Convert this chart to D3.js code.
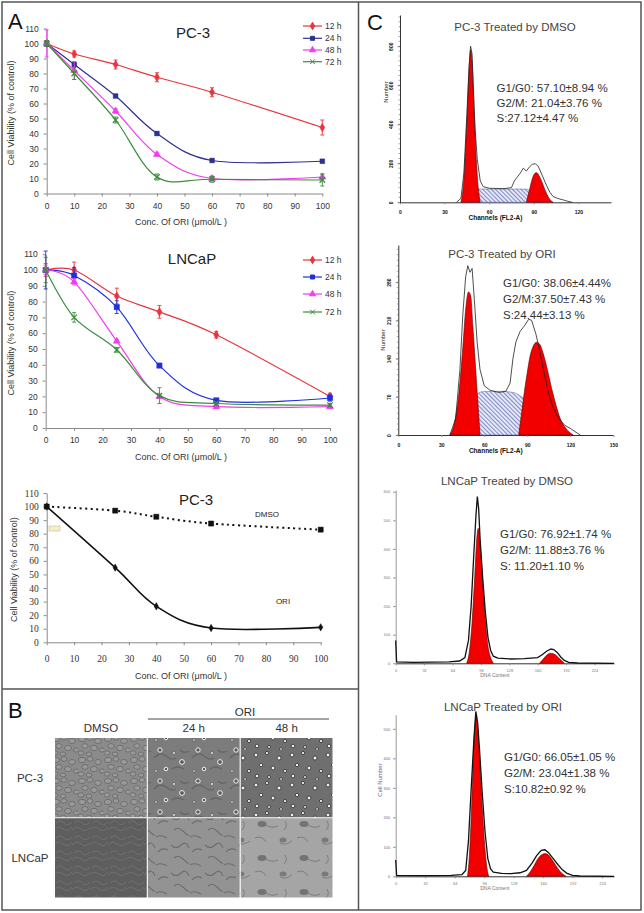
<!DOCTYPE html>
<html>
<head>
<meta charset="utf-8">
<script src="https://cdn.jsdelivr.net/npm/d3@7"></script>
<style>
body { margin: 0; background: #fff; }
text { font-family: Arial, "Liberation Sans", sans-serif; }
</style>
</head>
<body>
<svg id="fig" width="644" height="913"></svg>
<script>
// ---- panel A data (cell viability, % of control) ----
var conc = [0, 10, 25, 40, 60, 100];
var hours = ["12 h", "24 h", "48 h", "72 h"];

var pc3_12h = [100, 93, 86, 77.5, 67.5, 44];
var pc3_24h = [100, 86, 65, 40, 22, 21.5];
var pc3_48h = [100, 82, 55, 26, 10, 11];
var pc3_72h = [100, 80, 49, 11, 9.5, 9];
var pc3_12hErr = [2, 2, 3, 3, 3, 5];
var pc3_24hErr = [2, 1, 1, 1, 1, 1];
var pc3_48hErr = [9, 6, 1.5, 1, 1.5, 2];
var pc3_72hErr = [2, 4, 2, 2, 2, 4];

var ln_12h = [100, 100, 83.5, 73.5, 59, 20];
var ln_24h = [100, 96.5, 76.5, 39.5, 17.5, 19];
var ln_48h = [100, 92.5, 55, 20, 13.5, 13.5];
var ln_72h = [100, 70, 49.5, 20.5, 15.5, 14.5];
var ln_12hErr = [4, 5, 5, 4, 2, 2];
var ln_24hErr = [12, 5, 4, 1, 1, 2];
var ln_48hErr = [3, 2, 1, 1, 1, 1];
var ln_72hErr = [8, 3, 1.5, 5, 1, 1];

var conc3 = [0, 25, 40, 60, 100];
var dmso3 = [100, 97, 92.5, 87.5, 83];
var ori3 = [100, 55, 26.5, 10.5, 11];

// ---- panel B labels ----
var bCols = ["DMSO", "24 h", "48 h"];
var bRows = ["PC-3", "LNCaP"];

// ---- panel C data (histograms: [channel, count]) ----
var pc3DmsoRaw = [[38,0],[41,20],[43,150],[45,450],[46.5,700],[47.5,800],[48.5,760],[49.5,560],[50.5,380],[52,220],[54,110],[56,80],[60,72],[70,70],[75,75],[77,110],[79,130],[81,150],[83,175],[85,160],[87,180],[89,195],[91,198],[93,185],[95,150],[97,115],[99,80],[101,50],[103,30],[106,20],[110,12],[113,5],[116,0]];
var pc3DmsoG1 = [[41,0],[43,120],[45,420],[46.5,680],[47.5,780],[48.5,720],[50,450],[51.5,200],[53,50],[54,0]];
var pc3DmsoG2 = [[85,0],[87,60],[89,120],[91,150],[92,152],[94,130],[96,95],[98,55],[100,25],[102,5],[103,0]];
var pc3DmsoS = [[45,0],[48,40],[51,67],[55,68],[70,68],[80,68],[86,67],[88,40],[91,0]];

var pc3OriRaw = [[36,0],[40,30],[43,120],[45,220],[47,290],[48.5,310],[50,298],[51.5,305],[53,250],[55,170],[57,120],[60,90],[64,82],[70,78],[75,80],[78,95],[80,140],[82,170],[85,190],[88,200],[91,212],[93,210],[96,185],[99,150],[102,110],[105,75],[108,50],[112,30],[116,18],[120,12],[124,5],[127,0]];
var pc3OriG1 = [[36,0],[39,20],[42,70],[45,160],[47,230],[49,262],[50.5,255],[52,200],[54,120],[55.5,60],[57,0]];
var pc3OriG2 = [[84,0],[86,40],[88,80],[90,115],[92,145],[94,162],[96.5,170],[99,165],[101,150],[104,120],[107,85],[110,55],[113,30],[117,12],[122,0]];
var pc3OriS = [[42,0],[46,25],[50,55],[54,72],[58,79],[65,80],[72,80],[80,78],[86,70],[92,55],[98,35],[103,18],[107,5],[109,0]];

var lnDmsoRaw = [[0,80],[1,5],[20,3],[40,4],[60,5],[72,8],[78,20],[82,80],[85,200],[88,380],[90.5,520],[92,583],[93.5,540],[95,440],[98,300],[101,180],[104,90],[107,45],[110,25],[115,18],[130,15],[145,16],[160,20],[165,30],[170,42],[175,50],[178,48],[182,38],[186,22],[190,10],[195,3],[205,1],[246,0]];
var lnDmsoG1 = [[80,0],[83,40],[86,140],[89,300],[91.5,440],[93,472],[95,420],[98,280],[101,150],[104,60],[107,20],[110,0]];
var lnDmsoG2 = [[162,0],[166,14],[170,28],[174,35],[178,33],[182,24],[186,12],[190,0]];

var lnOriRaw = [[0,55],[1,3],[30,2],[60,3],[72,6],[76,20],[79,120],[82,300],[85,470],[87,559],[89,520],[91,430],[94,280],[97,150],[100,60],[103,25],[106,14],[115,10],[125,9],[135,12],[142,20],[148,45],[153,70],[158,88],[162,90],[166,80],[171,60],[176,40],[181,22],[186,10],[192,3],[200,1],[237,0]];
var lnOriG1 = [[78,0],[80,70],[82,200],[84,380],[86,510],[87.5,545],[89,500],[91,400],[94,230],[97,90],[99,30],[101,0]];
var lnOriG2 = [[142,0],[146,15],[150,35],[154,58],[158,72],[162,77],[166,72],[170,55],[174,36],[178,18],[182,6],[185,0]];

var pc3DmsoStats = ["G1/G0: 57.10\u00b18.94 %", "G2/M: 21.04\u00b13.76 %", "S:27.12\u00b14.47 %"];
var pc3OriStats = ["G1/G0: 38.06\u00b14.44%", "G2/M:37.50\u00b17.43 %", "S:24.44\u00b13.13 %"];
var lnDmsoStats = ["G1/G0: 76.92\u00b11.74 %", "G2/M: 11.88\u00b13.76 %", "S: 11.20\u00b11.10 %"];
var lnOriStats = ["G1/G0: 66.05\u00b11.05 %", "G2/M: 23.04\u00b11.38 %", "S:10.82\u00b10.92 %"];

var svg = d3.select("#fig");
var defs = svg.append("defs");
var SANS = 'Arial, "Liberation Sans", sans-serif';
var SERIF = '"Liberation Serif", "Times New Roman", serif';
var markX = d3.symbolX || d3.symbolCross;

// frame
svg.append("rect").attr("x", 2).attr("y", 2).attr("width", 639).attr("height", 908)
    .attr("fill", "none").attr("stroke", "#555").attr("stroke-width", 1.5);
svg.append("line").attr("x1", 358.5).attr("x2", 358.5).attr("y1", 2).attr("y2", 910)
    .attr("stroke", "#555").attr("stroke-width", 1.5);
svg.append("line").attr("x1", 2).attr("x2", 358.5).attr("y1", 689).attr("y2", 689)
    .attr("stroke", "#555").attr("stroke-width", 1.5);

function letter(t, x, y) {
    svg.append("text").attr("x", x).attr("y", y).text(t)
        .style("font-size", "22px").attr("fill", "#111");
}
letter("A", 8, 29);
letter("B", 8, 718);
letter("C", 367, 30);

function styleAxis(a, fontSize, family, color) {
    a.select(".domain").attr("stroke", "#8a8a8a");
    a.selectAll(".tick line").attr("stroke", "#8a8a8a");
    a.selectAll("text").attr("fill", color || "#333")
        .style("font-size", fontSize + "px").style("font-family", family);
}

function drawViab(opt) {
    var g = svg.append("g");
    var x = d3.scaleLinear().domain([0, 100]).range([opt.left, opt.right]);
    var y = d3.scaleLinear().domain([0, 110]).range([opt.bottom, opt.top]);
    var fam = opt.serif ? SERIF : SANS;

    var xa = g.append("g").attr("transform", "translate(0," + opt.bottom + ")")
        .call(d3.axisBottom(x).tickValues(d3.range(0, 101, 10)).tickSize(3).tickSizeOuter(0).tickPadding(opt.xPad));
    var ya = g.append("g").attr("transform", "translate(" + opt.left + ",0)")
        .call(d3.axisLeft(y).tickValues(d3.range(0, 111, 10)).tickSize(3).tickSizeOuter(0).tickPadding(5));
    styleAxis(xa, opt.tick, fam);
    styleAxis(ya, opt.tick, fam);

    g.append("text").attr("transform", "translate(" + opt.yLabelX + "," + ((opt.top + opt.bottom) / 2 + 2) + ") rotate(-90)")
        .attr("text-anchor", "middle").style("font-size", "9px").attr("fill", "#333")
        .text("Cell Viability (% of control)");
    g.append("text").attr("x", 181).attr("y", opt.bottom + opt.xTitleDy).attr("text-anchor", "middle")
        .style("font-size", "9px").attr("fill", "#333").text("Conc. Of ORI (\u03bcmol/L )");
    g.append("text").attr("x", opt.titleX).attr("y", opt.titleY).attr("text-anchor", "middle")
        .style("font-size", "15px").attr("fill", "#222").text(opt.title);

    var smooth = d3.curveCardinal.tension(0);
    opt.series.forEach(function (s) {
        var pts = s.xs.map(function (c, i) {
            return { c: c, v: s.values[i], e: s.err ? s.err[i] : 0 };
        });
        var line = d3.line().x(function (d) { return x(d.c); })
            .y(function (d) { return y(d.v); }).curve(smooth);
        g.append("path").datum(pts).attr("d", line).attr("fill", "none")
            .attr("stroke", s.color).attr("stroke-width", s.width || 1.2)
            .attr("stroke-dasharray", s.dash || null);
        if (s.err) {
            var eb = g.append("g").attr("stroke", s.color).attr("stroke-width", 0.9);
            pts.forEach(function (d) {
                if (!d.e) return;
                eb.append("line").attr("x1", x(d.c)).attr("x2", x(d.c))
                    .attr("y1", y(d.v - d.e)).attr("y2", y(d.v + d.e));
                [d.v - d.e, d.v + d.e].forEach(function (v) {
                    eb.append("line").attr("x1", x(d.c) - 2).attr("x2", x(d.c) + 2)
                        .attr("y1", y(v)).attr("y2", y(v));
                });
            });
        }
        var sym = d3.symbol().type(s.symbol).size(s.msize || 22);
        g.selectAll(null).data(pts).join("path")
            .attr("transform", function (d) { return "translate(" + x(d.c) + "," + y(d.v) + ")"; })
            .attr("d", sym)
            .attr("fill", s.symbol === markX ? "none" : s.color)
            .attr("stroke", s.color).attr("stroke-width", s.symbol === markX ? 1.2 : 0.5);
    });

    if (opt.legend) {
        opt.series.forEach(function (s, i) {
            var ly = opt.legend.y[i];
            g.append("line").attr("x1", 303).attr("x2", 322).attr("y1", ly).attr("y2", ly)
                .attr("stroke", s.color).attr("stroke-width", 1.2);
            g.append("path").attr("transform", "translate(312.5," + ly + ")")
                .attr("d", d3.symbol().type(s.symbol).size(16))
                .attr("fill", s.symbol === markX ? "none" : s.color).attr("stroke", s.color);
            g.append("text").attr("x", 325).attr("y", ly + 3).style("font-size", "8.5px")
                .attr("fill", "#333").text(hours[i]);
        });
    }
    return { g: g, x: x, y: y };
}

drawViab({
    left: 46.7, right: 322.3, bottom: 193.5, top: 28.5, xPad: 6, tick: 8.5,
    yLabelX: 14, xTitleDy: 31, title: "PC-3", titleX: 193, titleY: 38,
    legend: { y: [26, 38.3, 50, 61.7] },
    series: [
        { xs: conc, values: pc3_12h, err: pc3_12hErr, color: "#e8343c", symbol: d3.symbolDiamond },
        { xs: conc, values: pc3_24h, err: pc3_24hErr, color: "#2e3190", symbol: d3.symbolSquare },
        { xs: conc, values: pc3_48h, err: pc3_48hErr, color: "#f23cf0", symbol: d3.symbolTriangle },
        { xs: conc, values: pc3_72h, err: pc3_72hErr, color: "#3c8c3c", symbol: markX }
    ]
});

drawViab({
    left: 45.7, right: 330, bottom: 428, top: 254.2, xPad: 6, tick: 8.5,
    yLabelX: 14, xTitleDy: 32, title: "LNCaP", titleX: 192, titleY: 264,
    legend: { y: [260, 277, 294, 312] },
    series: [
        { xs: conc, values: ln_12h, err: ln_12hErr, color: "#e8343c", symbol: d3.symbolDiamond },
        { xs: conc, values: ln_24h, err: ln_24hErr, color: "#1f2fe0", symbol: d3.symbolSquare, msize: 28 },
        { xs: conc, values: ln_48h, err: ln_48hErr, color: "#f23cf0", symbol: d3.symbolTriangle },
        { xs: conc, values: ln_72h, err: ln_72hErr, color: "#3c8c3c", symbol: markX }
    ]
});

var c3 = drawViab({
    left: 46.7, right: 320.7, bottom: 642.3, top: 493, xPad: 10, tick: 9.5, serif: true,
    yLabelX: 16.5, xTitleDy: 37, title: "PC-3", titleX: 196, titleY: 505,
    series: [
        { xs: conc3, values: dmso3, color: "#111", width: 2, dash: "2,3.5", symbol: d3.symbolSquare, msize: 26 },
        { xs: conc3, values: ori3, color: "#111", width: 1.6, symbol: d3.symbolDiamond, msize: 16 }
    ]
});
c3.g.append("text").attr("x", 267).attr("y", 517).attr("text-anchor", "middle")
    .style("font-size", "8px").attr("fill", "#222").text("DMSO");
c3.g.append("text").attr("x", 283).attr("y", 604).attr("text-anchor", "middle")
    .style("font-size", "8px").attr("fill", "#222").text("ORI");
c3.g.append("rect").attr("x", 49).attr("y", 526).attr("width", 11).attr("height", 5)
    .attr("fill", "#f4efc6").attr("stroke", "#b9b28a").attr("stroke-width", 0.5);

// ---- panel B: micrograph tiles (texture only) ----
function pattern(id, w, h, bg, draw) {
    var p = defs.append("pattern").attr("id", id).attr("width", w).attr("height", h)
        .attr("patternUnits", "userSpaceOnUse");
    p.append("rect").attr("width", w).attr("height", h).attr("fill", bg);
    draw(p);
}
function dots(p, list, fill, stroke, sw) {
    list.forEach(function (c) {
        p.append("circle").attr("cx", c[0]).attr("cy", c[1]).attr("r", c[2])
            .attr("fill", fill).attr("stroke", stroke).attr("stroke-width", sw);
    });
}
function strokes(p, d, color, w) {
    p.append("path").attr("d", d).attr("fill", "none").attr("stroke", color).attr("stroke-width", w);
}
pattern("pc3d", 26, 21, "#8b8b8b", function (p) {
    [[4, 4, 3.6, 2.6], [12, 3, 3, 2.3], [20, 6, 3.4, 2.5], [7, 11, 3.2, 2.4], [16, 13, 3.5, 2.6], [24, 15, 2.6, 2.1], [3, 18, 3, 2.2], [11, 19, 2.8, 2]].forEach(function (e) {
        p.append("ellipse").attr("cx", e[0]).attr("cy", e[1]).attr("rx", e[2]).attr("ry", e[3])
            .attr("fill", "#999").attr("stroke", "#6a6a6a").attr("stroke-width", 0.9);
    });
});
pattern("pc3a", 38, 31, "#7c7c7c", function (p) {
    strokes(p, "M2,14 q6,-7 12,-2 t10,2 M20,25 q5,-4 12,0 M28,6 q4,4 9,1", "#666", 1.4);
    dots(p, [[8, 6, 2.2], [30, 18, 2.4], [14, 25, 1.8]], "#5a5a5a", "#eee", 1);
    dots(p, [[22, 9, 1.5], [4, 27, 1.3]], "#e6e6e6", "#444", 0.6);
});
pattern("pc3b", 36, 30, "#6f6f6f", function (p) {
    dots(p, [[4, 5, 1.9], [15, 3, 1.6], [27, 8, 2], [9, 15, 1.7], [21, 18, 1.9], [33, 21, 1.6], [5, 26, 1.8], [17, 27, 1.5], [29, 29, 1.4]],
        "#f0f0f0", "#2c2c2c", 0.8);
});
pattern("lnd", 18, 15, "#5e5e5e", function (p) {
    strokes(p, "M0,5 q4,-5 9,-1 t9,-2 M2,13 q5,-4 8,0 t8,-1", "#737373", 0.8);
});
pattern("lna", 34, 28, "#939393", function (p) {
    strokes(p, "M1,5 q5,5 10,0 t8,3 M4,18 q4,-4 9,1 t6,4 M22,12 q4,-5 10,-2 M20,25 q5,-3 11,1", "#6e6e6e", 1.1);
});
pattern("lnb", 42, 34, "#a5a5a5", function (p) {
    p.append("ellipse").attr("cx", 10).attr("cy", 8).attr("rx", 4.5).attr("ry", 3).attr("fill", "#737373");
    p.append("ellipse").attr("cx", 31).attr("cy", 24).attr("rx", 3.5).attr("ry", 2.5).attr("fill", "#7a7a7a");
    strokes(p, "M14,9 q6,4 12,1 M3,22 q7,-3 11,4 M28,27 q5,3 12,-2 M33,5 q3,5 -1,9", "#7d7d7d", 1);
});
var tileIds = [["pc3d", "pc3a", "pc3b"], ["lnd", "lna", "lnb"]];

var bx = d3.scaleBand().domain(bCols).range([55, 332.5]).paddingInner(0.012);
var by = d3.scaleBand().domain(bRows).range([738, 897.5]).paddingInner(0.012);
var gb = svg.append("g");
bRows.forEach(function (r, ri) {
    bCols.forEach(function (c, ci) {
        gb.append("rect").attr("x", bx(c)).attr("y", by(r))
            .attr("width", bx.bandwidth()).attr("height", by.bandwidth())
            .attr("fill", "url(#" + tileIds[ri][ci] + ")");
    });
    gb.append("text").attr("x", 30).attr("y", by(r) + by.bandwidth() / 2 + 4)
        .attr("text-anchor", "middle").style("font-size", "11.5px").attr("fill", "#333").text(r);
});
bCols.forEach(function (c) {
    gb.append("text").attr("x", bx(c) + bx.bandwidth() / 2).attr("y", 732)
        .attr("text-anchor", "middle").style("font-size", "11.5px").attr("fill", "#333").text(c);
});
gb.append("text").attr("x", 245).attr("y", 716).attr("text-anchor", "middle")
    .style("font-size", "11.5px").attr("fill", "#333").text("ORI");
gb.append("line").attr("x1", bx("24 h")).attr("x2", 329).attr("y1", 719).attr("y2", 719)
    .attr("stroke", "#333").attr("stroke-width", 0.9);

// ---- panel C: DNA histograms ----
var hatch = defs.append("pattern").attr("id", "hatch").attr("width", 3).attr("height", 3)
    .attr("patternUnits", "userSpaceOnUse").attr("patternTransform", "rotate(-45)");
hatch.append("rect").attr("width", 3).attr("height", 3).attr("fill", "#e6e8f6");
hatch.append("line").attr("x1", 0).attr("x2", 0).attr("y1", 0).attr("y2", 3)
    .attr("stroke", "#4a58b0").attr("stroke-width", 1.3);

function drawHist(opt) {
    var g = svg.append("g");
    var x = d3.scaleLinear().domain(opt.xDomain).range([opt.left, opt.right]);
    var y = d3.scaleLinear().domain(opt.yDomain).range([opt.bottom, opt.top]);
    var fl2 = opt.kind === "fl2";

    var xa = g.append("g").attr("transform", "translate(0," + opt.bottom + ")")
        .call(d3.axisBottom(x).tickValues(opt.xTicks).tickSize(2).tickSizeOuter(0).tickPadding(fl2 ? 6 : 4));
    styleAxis(xa, fl2 ? 5 : 4, SANS, fl2 ? "#111" : "#777");
    if (fl2) xa.selectAll("text").style("font-weight", "bold");
    xa.select(".domain").attr("stroke", "#333");

    var ya = g.append("g").attr("transform", "translate(" + opt.left + ",0)")
        .call(d3.axisLeft(y).tickValues(opt.yTicks).tickSize(2.5).tickSizeOuter(0).tickPadding(3));
    styleAxis(ya, fl2 ? 5 : 4, SANS, opt.yColor || (fl2 ? "#111" : "#777"));
    ya.select(".domain").attr("stroke", fl2 ? "#333" : "#999");
    if (fl2) {
        ya.selectAll(".tick text").attr("x", null).attr("dy", null)
            .attr("transform", "translate(-7,0) rotate(-90)").attr("text-anchor", "middle")
            .style("font-weight", "bold");
        var minor = d3.range(opt.yDomain[0], opt.yDomain[1], opt.yMinor);
        g.append("g").selectAll(null).data(minor).join("line")
            .attr("x1", opt.left - 1.5).attr("x2", opt.left)
            .attr("y1", function (d) { return y(d); }).attr("y2", function (d) { return y(d); })
            .attr("stroke", "#555").attr("stroke-width", 0.5);
    }

    var area = d3.area().x(function (d) { return x(d[0]); })
        .y0(y(0)).y1(function (d) { return y(d[1]); }).curve(d3.curveMonotoneX);
    if (opt.s) {
        g.append("path").datum(opt.s).attr("d", area).attr("fill", "url(#hatch)")
            .attr("stroke", "#4a58b0").attr("stroke-width", 0.5);
    }
    [opt.g1, opt.g2].forEach(function (a) {
        g.append("path").datum(a).attr("d", area).attr("fill", "#f20000")
            .attr("stroke", "#5a0000").attr("stroke-width", 0.6);
    });
    var line = d3.line().x(function (d) { return x(d[0]); }).y(function (d) { return y(d[1]); });
    g.append("path").datum(opt.raw).attr("d", line).attr("fill", "none")
        .attr("stroke", fl2 ? "#222" : "#111").attr("stroke-width", fl2 ? 0.8 : 1.3);

    g.append("text").attr("x", opt.titleX).attr("y", opt.titleY).attr("text-anchor", "middle")
        .style("font-size", "11.5px").attr("fill", "#444").text(opt.title);
    g.append("g").selectAll(null).data(opt.stats).join("text")
        .attr("x", opt.statsX).attr("y", function (d, i) { return opt.statsY + i * opt.statsDy; })
        .style("font-size", "11.5px").attr("fill", "#333").text(function (d) { return d; });

    g.append("text").attr("x", (opt.left + opt.right) / 2 - 10).attr("y", opt.bottom + (fl2 ? 18 : 14))
        .attr("text-anchor", "middle").style("font-size", fl2 ? "6.5px" : "5px")
        .style("font-weight", fl2 ? "bold" : "normal").attr("fill", fl2 ? "#111" : "#777")
        .text(opt.xTitle);
    if (opt.yTitle) {
        g.append("text").attr("transform", "translate(" + opt.yTitleX + "," + opt.yTitleY + ") rotate(-90)")
            .attr("text-anchor", "middle").style("font-size", "6px")
            .attr("fill", opt.yColor || "#222").text(opt.yTitle);
    }
}

drawHist({
    kind: "fl2", left: 400, right: 611, bottom: 202.3, top: 15,
    xDomain: [0, 142], yDomain: [0, 960], xTicks: [0, 30, 60, 90, 120], yTicks: [0, 200, 400, 600, 800], yMinor: 25,
    raw: pc3DmsoRaw, g1: pc3DmsoG1, g2: pc3DmsoG2, s: pc3DmsoS,
    title: "PC-3 Treated by DMSO", titleX: 515, titleY: 31,
    stats: pc3DmsoStats, statsX: 496.5, statsY: 91.5, statsDy: 15,
    xTitle: "Channels (FL2-A)", yTitle: "Number", yTitleX: 388, yTitleY: 92
});
drawHist({
    kind: "fl2", left: 398.3, right: 613.3, bottom: 435, top: 245,
    xDomain: [0, 150], yDomain: [0, 348], xTicks: [0, 30, 60, 90, 120, 150], yTicks: [0, 70, 140, 210, 280], yMinor: 10,
    raw: pc3OriRaw, g1: pc3OriG1, g2: pc3OriG2, s: pc3OriS,
    title: "PC-3 Treated by ORI", titleX: 502, titleY: 257.5,
    stats: pc3OriStats, statsX: 503, statsY: 286.5, statsDy: 16,
    xTitle: "Channels (FL2-A)", yTitle: "Number", yTitleX: 385, yTitleY: 340
});
drawHist({
    kind: "dna", left: 395.7, right: 614, bottom: 663.3, top: 490,
    xDomain: [0, 246], yDomain: [0, 606], xTicks: d3.range(0, 225, 32), yTicks: d3.range(0, 601, 100),
    raw: lnDmsoRaw, g1: lnDmsoG1, g2: lnDmsoG2,
    title: "LNCaP Treated by DMSO", titleX: 507, titleY: 485,
    stats: lnDmsoStats, statsX: 500, statsY: 538, statsDy: 16,
    xTitle: "DNA Content"
});
drawHist({
    kind: "dna", left: 395.7, right: 614, bottom: 876.3, top: 714.7,
    xDomain: [0, 237], yDomain: [0, 548], xTicks: d3.range(0, 225, 32), yTicks: d3.range(0, 501, 100),
    raw: lnOriRaw, g1: lnOriG1, g2: lnOriG2, yColor: "#7a5a8c",
    title: "LNCaP Treated by ORI", titleX: 503, titleY: 711,
    stats: lnOriStats, statsX: 504, statsY: 760.5, statsDy: 16.3,
    xTitle: "DNA Content", yTitle: "Cell Number", yTitleX: 382, yTitleY: 780
});
</script>
</body>
</html>
